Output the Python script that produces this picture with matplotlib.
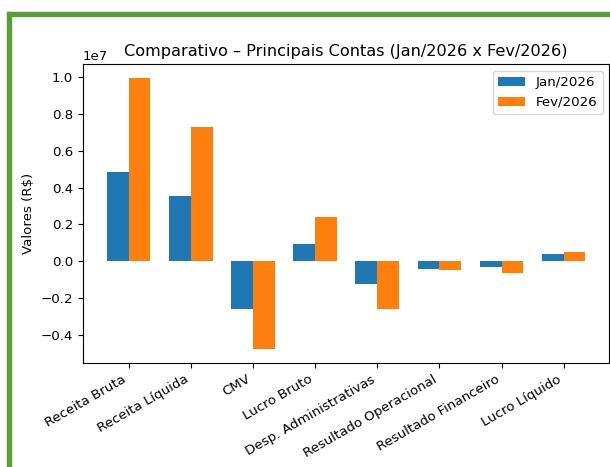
import numpy as np
import matplotlib
matplotlib.use('Agg')
import matplotlib.pyplot as plt
from matplotlib.patches import Rectangle

# Dados
contas = ['Receita Bruta', 'Receita Líquida', 'CMV', 'Lucro Bruto',
          'Desp. Administrativas', 'Resultado Operacional',
          'Resultado Financeiro', 'Lucro Líquido']
jan_2026 = [4.85e6, 3.56e6, -2.62e6, 0.93e6, -1.25e6, -0.45e6, -0.35e6, 0.40e6]
fev_2026 = [9.98e6, 7.29e6, -4.81e6, 2.40e6, -2.60e6, -0.48e6, -0.67e6, 0.47e6]

plt.rcParams['font.size'] = 9.65

fig = plt.figure(figsize=(6.1, 4.67), dpi=100)
ax = fig.add_axes([0.136, 0.2227, 0.863, 0.640])

x = np.arange(len(contas))
width = 0.35
ax.bar(x - width / 2, jan_2026, width, label='Jan/2026')
ax.bar(x + width / 2, fev_2026, width, label='Fev/2026')

ax.set_xticks(x)
ax.set_xticklabels(contas, rotation=30, ha='right')
ax.set_ylabel('Valores (R$)')
ax.set_title('Comparativo – Principais Contas (Jan/2026 x Fev/2026)')
ax.legend(loc='upper right')

# Moldura verde da captura de tela
fig.patches.append(Rectangle((7 / 610, 0), 4 / 610, 1 - 12 / 467,
                             transform=fig.transFigure, color='#5a9e3a', zorder=10))
fig.patches.append(Rectangle((7 / 610, 1 - 16 / 467), 1, 4 / 467,
                             transform=fig.transFigure, color='#5a9e3a', zorder=10))

fig.savefig('out.png', dpi=100)
